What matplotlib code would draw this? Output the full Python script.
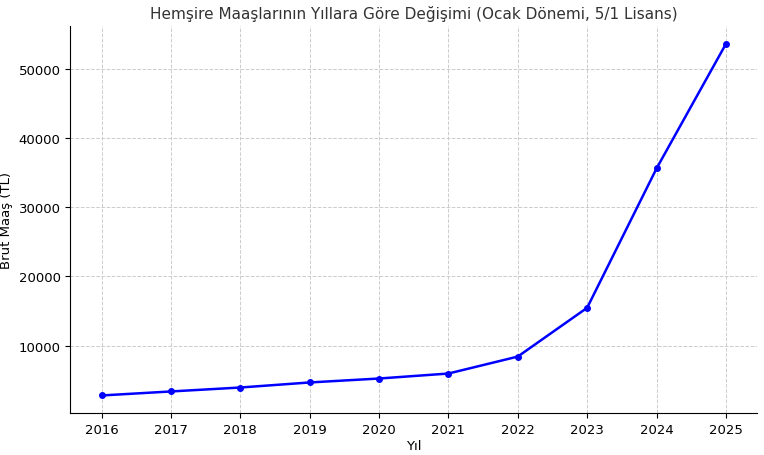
import matplotlib
matplotlib.use("Agg")
import matplotlib.pyplot as plt

years = [2016, 2017, 2018, 2019, 2020, 2021, 2022, 2023, 2024, 2025]
salaries = [2800, 3380, 3950, 4680, 5250, 5970, 8420, 15470, 35600, 53600]

fig, ax = plt.subplots(figsize=(7.64, 4.56), dpi=100)
fig.subplots_adjust(left=0.092, right=0.991, top=0.94, bottom=0.092)
ax.plot(years, salaries, color="blue", marker="o", markersize=4, linewidth=1.8)
ax.set_xticks(years)
ax.set_title("Hemşire Maaşlarının Yıllara Göre Değişimi (Ocak Dönemi, 5/1 Lisans)", fontsize=11, color="#333333")
ax.set_xlabel("Yıl", fontsize=9.5, labelpad=2)
ax.set_ylabel("Brüt Maaş (TL)", fontsize=9.5, labelpad=4)
ax.grid(True, linestyle="--", color="#cccccc", linewidth=0.7)
ax.tick_params(labelsize=9.5)
for s in ["top", "right"]:
    ax.spines[s].set_visible(False)
fig.savefig("out.png")
